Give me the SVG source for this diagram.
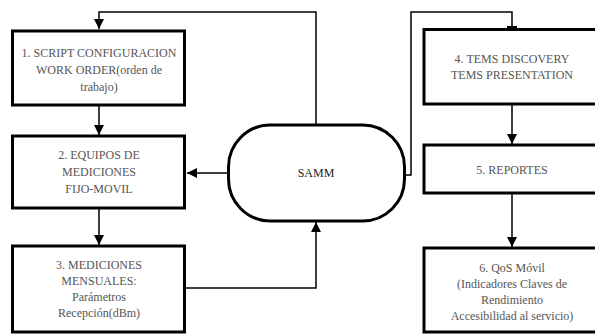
<svg xmlns="http://www.w3.org/2000/svg" width="595" height="335" viewBox="0 0 595 335">
<style>
.box{fill:#fff;stroke:#000;stroke-width:3}
.t{font-size:12px;fill:#555;text-anchor:middle}
.s{font-size:12px;fill:#222;text-anchor:middle}
.c{fill:none;stroke:#000;stroke-width:1.5}
</style>
<defs>
<marker id="ah" viewBox="0 0 10 10" refX="10" refY="5" markerWidth="10" markerHeight="10" markerUnits="userSpaceOnUse" orient="auto">
<path d="M0,0 L10,5 L0,10 Z" fill="#000"/>
</marker>
</defs>
<rect width="595" height="335" fill="#fff"/>
<g id="connectors">
<path class="c" d="M316,125 V12 H99 V29" marker-end="url(#ah)"/>
<path class="c" d="M99,105 V135" marker-end="url(#ah)"/>
<path class="c" d="M99,208 V245" marker-end="url(#ah)"/>
<path class="c" d="M228,173 H187" marker-end="url(#ah)"/>
<path class="c" d="M186,288 H316 V222" marker-end="url(#ah)"/>
<path class="c" d="M405,175 H411 V12 H512 V29"/>
<rect x="507" y="26" width="10" height="3" fill="#000"/>
<path class="c" d="M512,104 V144" marker-end="url(#ah)"/>
<path class="c" d="M512,193 V247" marker-end="url(#ah)"/>
</g>
<g font-family="'Liberation Serif', 'Times New Roman', 'DejaVu Serif', serif">
<g id="n1">
<rect class="box" x="12.5" y="31" width="172" height="74"/>
<text class="t" x="99" y="57">1. SCRIPT CONFIGURACION</text>
<text class="t" x="99" y="74">WORK ORDER(orden de</text>
<text class="t" x="99" y="91">trabajo)</text>
</g>
<g id="n2">
<rect class="box" x="12.5" y="136" width="172" height="72"/>
<text class="t" x="99" y="159">2. EQUIPOS DE</text>
<text class="t" x="99" y="176">MEDICIONES</text>
<text class="t" x="99" y="193">FIJO-MOVIL</text>
</g>
<g id="n3">
<rect class="box" x="12.5" y="246" width="172" height="86"/>
<text class="t" x="99" y="269">3. MEDICIONES</text>
<text class="t" x="99" y="285">MENSUALES:</text>
<text class="t" x="99" y="301">Parámetros</text>
<text class="t" x="99" y="317">Recepción(dBm)</text>
</g>
<g id="samm">
<rect class="box" x="228.5" y="125" width="176" height="96" rx="42" ry="42"/>
<text class="s" x="316" y="177">SAMM</text>
</g>
<g id="n4">
<rect class="box" x="424" y="29.5" width="180" height="74.5"/>
<text class="t" x="512" y="63">4. TEMS DISCOVERY</text>
<text class="t" x="512" y="79">TEMS PRESENTATION</text>
</g>
<g id="n5">
<rect class="box" x="424" y="145" width="180" height="48"/>
<text class="t" x="512" y="174">5. REPORTES</text>
</g>
<g id="n6">
<rect class="box" x="424" y="248" width="180" height="84"/>
<text class="t" x="512" y="272">6. QoS Móvil</text>
<text class="t" x="512" y="288">(Indicadores Claves de</text>
<text class="t" x="512" y="304">Rendimiento</text>
<text class="t" x="512" y="320">Accesibilidad al servicio)</text>
</g>
</g>
</svg>
